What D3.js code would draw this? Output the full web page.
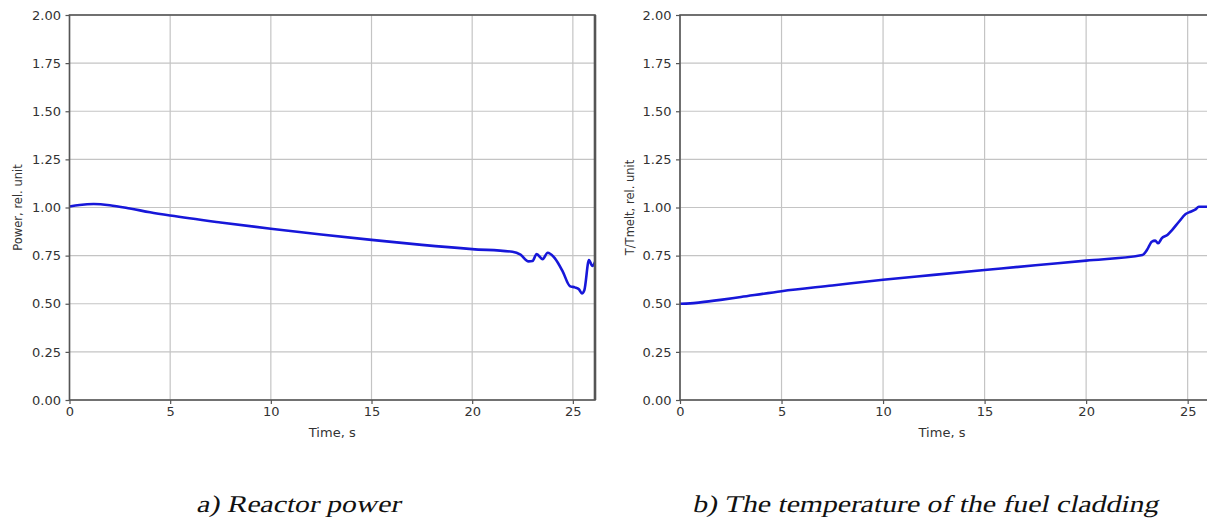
<!DOCTYPE html>
<html><head><meta charset="utf-8">
<script src="https://cdn.jsdelivr.net/npm/d3@7"></script>
<style>body{margin:0;background:#fff}svg{display:block}
.cap{font-family:"Liberation Serif","Times New Roman",serif;font-style:normal;font-size:24px;fill:#111}
.lab{font-family:"DejaVu Sans",sans-serif;font-size:13px;fill:#333}
.ylab{font-family:"DejaVu Sans",sans-serif;font-size:11.5px;fill:#333}
</style>
</head><body>
<script>
// Data
const xTicks = [0, 5, 10, 15, 20, 25];
const yTicks = [0, 0.25, 0.5, 0.75, 1.0, 1.25, 1.5, 1.75, 2.0];

const powerTime  = [0, 0.5, 1.2, 2, 3, 4, 5, 7.5, 10, 12.5, 15, 17.5, 20, 22, 22.4, 22.8, 23.0, 23.2, 23.5, 23.75, 24.1, 24.5, 24.85, 25.1, 25.3, 25.45, 25.57, 25.8, 25.97, 26.1];
const powerValue = [1.005, 1.013, 1.018, 1.012, 0.995, 0.975, 0.958, 0.922, 0.89, 0.86, 0.832, 0.806, 0.784, 0.77, 0.755, 0.72, 0.722, 0.758, 0.732, 0.765, 0.737, 0.667, 0.592, 0.585, 0.575, 0.554, 0.57, 0.727, 0.696, 0.717];

const tempTime  = [0, 0.5, 1, 2, 3, 5, 7.5, 10, 12.5, 15, 17.5, 20, 22.77, 23.0, 23.23, 23.4, 23.55, 23.72, 24.0, 24.21, 24.57, 24.9, 25.14, 25.39, 25.55, 26.1];
const tempValue = [0.50, 0.502, 0.507, 0.52, 0.535, 0.565, 0.595, 0.625, 0.65, 0.675, 0.70, 0.724, 0.753, 0.78, 0.822, 0.828, 0.814, 0.84, 0.857, 0.88, 0.926, 0.966, 0.978, 0.99, 1.004, 1.004];

const panels = [
  {time: powerTime, value: powerValue, ylabel: "Power, rel. unit", caption: "a) Reactor power",
   x0: 69.5, x1: 595, capX: 298, capW: 204, ylabX: 18},
  {time: tempTime, value: tempValue, ylabel: "T/Tmelt, rel. unit", caption: "b) The temperature of the fuel cladding",
   x0: 680, x1: 1210, capX: 925, capW: 466, ylabX: 630}
];

const W = 1207, H = 522, plotTop = 15, plotBottom = 400;
const svg = d3.select("body").append("svg").attr("width", W).attr("height", H);

panels.forEach((p, i) => {
  const x = d3.scaleLinear().domain([0, 26.1]).range([p.x0, p.x1]);
  const y = d3.scaleLinear().domain([0, 2]).range([plotBottom, plotTop]);
  const g = svg.append("g");
  const clipId = "clip" + i;
  svg.append("clipPath").attr("id", clipId).append("rect")
    .attr("x", p.x0).attr("y", plotTop).attr("width", p.x1 - p.x0).attr("height", plotBottom - plotTop);

  // grid
  g.append("g").selectAll("line").data(xTicks).join("line")
    .attr("x1", d => x(d)).attr("x2", d => x(d)).attr("y1", plotTop).attr("y2", plotBottom)
    .attr("stroke", "#c4c4c4").attr("stroke-width", 1.2);
  g.append("g").selectAll("line").data(yTicks).join("line")
    .attr("x1", p.x0).attr("x2", p.x1).attr("y1", d => y(d)).attr("y2", d => y(d))
    .attr("stroke", "#c4c4c4").attr("stroke-width", 1.2);

  // line
  const line = d3.line().x((d, k) => x(p.time[k])).y((d, k) => y(p.value[k])).curve(d3.curveMonotoneX);
  g.append("path").datum(p.value).attr("d", line).attr("clip-path", `url(#${clipId})`)
    .attr("fill", "none").attr("stroke", "#1717d9").attr("stroke-width", 2.6)
    .attr("stroke-linejoin", "round");

  // axes
  const xa = g.append("g").attr("transform", `translate(0,${plotBottom})`)
    .call(d3.axisBottom(x).tickValues(xTicks).tickFormat(d3.format("d")).tickSize(4).tickPadding(3));
  const ya = g.append("g").attr("transform", `translate(${p.x0},0)`)
    .call(d3.axisLeft(y).tickValues(yTicks).tickFormat(d3.format(".2f")).tickSize(4).tickPadding(4.5));
  [xa, ya].forEach(a => {
    a.attr("font-family", null).attr("font-size", null);
    a.select(".domain").remove();
    a.selectAll(".tick line").attr("stroke", "#555").attr("stroke-width", 1.2);
    a.selectAll("text").attr("class", "lab").attr("fill", null);
  });

  // spines
  g.append("rect").attr("x", p.x0).attr("y", plotTop).attr("width", p.x1 - p.x0).attr("height", plotBottom - plotTop)
    .attr("fill", "none").attr("stroke", "#555").attr("stroke-width", 1.6);
  if (i === 0) {
    g.append("line").attr("x1", p.x1).attr("x2", p.x1).attr("y1", plotTop).attr("y2", plotBottom)
      .attr("stroke", "#555").attr("stroke-width", 2.6);
  }

  // labels
  g.append("text").attr("class", "lab").attr("x", (p.x0 + p.x1) / 2 - (i ? 3 : 0)).attr("y", 437)
    .attr("text-anchor", "middle").text("Time, s");
  g.append("text").attr("class", "ylab")
    .attr("transform", `translate(${p.ylabX},${(plotTop + plotBottom) / 2}) rotate(-90)`)
    .attr("text-anchor", "middle").attr("dy", "0.35em").text(p.ylabel);

  g.append("text").attr("class", "cap")
    .attr("transform", `translate(${p.capX - p.capW / 2},512) skewX(-13)`)
    .attr("textLength", p.capW).attr("lengthAdjust", "spacingAndGlyphs")
    .text(p.caption);
});
</script>
</body></html>
